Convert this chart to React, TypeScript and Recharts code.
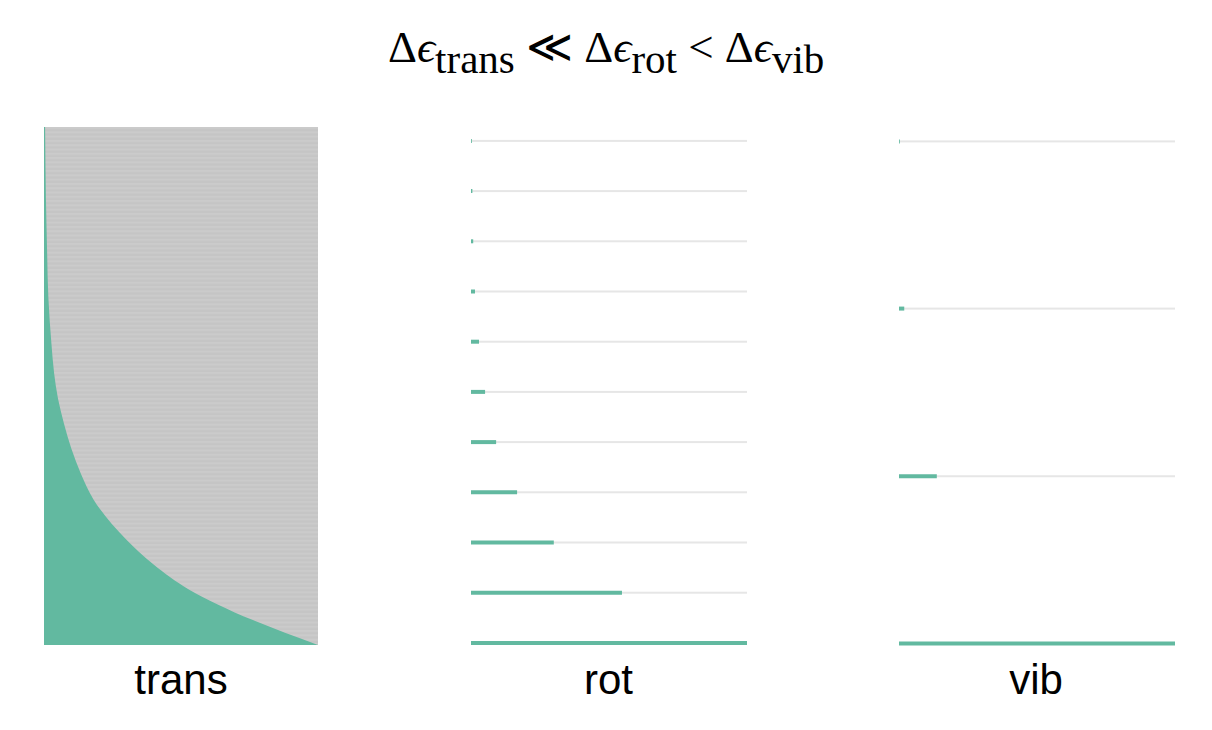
import React from 'react';
import { ComposedChart, Bar, Area, XAxis, YAxis, CartesianGrid } from 'recharts';

// Energy (in units of the rotational spacing) and relative population
const transEnergy = [0, 0.5, 1.1, 1.6, 2.1, 2.9, 3.4, 3.9, 4.4, 4.9, 5.4, 6.0, 6.9, 7.9, 8.9, 10.3];
const transPopulation = [1, 0.76, 0.53, 0.4, 0.3, 0.18, 0.135, 0.1, 0.073, 0.051, 0.037, 0.027, 0.016, 0.011, 0.007, 0.004];

const rotLevels = [0, 1, 2, 3, 4, 5, 6, 7, 8, 9, 10];
const rotPopulation = [1, 0.547, 0.3, 0.167, 0.091, 0.051, 0.029, 0.0145, 0.008, 0.005, 0.003];

const vibLevels = [0, 3.33, 6.67, 10];
const vibPopulation = [1, 0.137, 0.019, 0.003];

const panelLabels = ['trans', 'rot', 'vib'];

const GREEN = '#62b9a0';
const LINE_GRAY = '#e6e6e6';

const GrayLine = (props: any) => {
  const { x, y, width, height } = props;
  return <rect x={x} y={y + height / 2 - 1} width={width} height={2} fill={LINE_GRAY} />;
};

function LevelPanel({ levels, pops, left }: { levels: number[]; pops: number[]; left: number }) {
  const data = levels.map((e, i) => ({ e, p: pops[i] }));
  return (
    <div style={{ position: 'absolute', left, top: 137, width: 276, height: 510 }}>
      <ComposedChart
        layout="vertical"
        width={276}
        height={510}
        data={data}
        margin={{ top: 4, right: 0, bottom: 4, left: 0 }}
      >
        <XAxis type="number" domain={[0, 1]} hide />
        <YAxis type="number" dataKey="e" domain={[0, 10]} reversed hide />
        <Bar
          dataKey="p"
          fill={GREEN}
          barSize={4}
          isAnimationActive={false}
          background={GrayLine}
        />
      </ComposedChart>
    </div>
  );
}

function TransPanel() {
  const data = transEnergy.map((e, i) => ({ e, p: transPopulation[i] }));
  return (
    <div style={{ position: 'absolute', left: 44, top: 127, width: 274, height: 518 }}>
      <ComposedChart
        layout="vertical"
        width={274}
        height={518}
        data={data}
        margin={{ top: 0, right: 0, bottom: 0, left: 0 }}
      >
        <defs>
          <pattern id="transStripes" x="0" y="0" width="4" height="4.3" patternUnits="userSpaceOnUse">
            <rect x="0" y="0" width="4" height="4.3" fill="#c5c5c5" />
            <rect x="0" y="0" width="4" height="2" fill="#cbcbcb" />
          </pattern>
        </defs>
        <CartesianGrid horizontal={false} vertical={false} fill="url(#transStripes)" fillOpacity={1} />
        <XAxis type="number" domain={[0, 1]} hide />
        <YAxis type="number" dataKey="e" domain={[0, 10.3]} reversed hide />
        <Area
          dataKey="p"
          type="monotone"
          fill={GREEN}
          fillOpacity={1}
          stroke="none"
          isAnimationActive={false}
          dot={false}
          activeDot={false}
        />
      </ComposedChart>
    </div>
  );
}

const subStyle: React.CSSProperties = { fontSize: 41, position: 'relative', top: 11 };
const epsStyle: React.CSSProperties = { fontStyle: 'italic' };

export default function App() {
  const centers = [181, 608.5, 1036];
  return (
    <div style={{ position: 'absolute', left: 0, top: 0, width: 1212, height: 730, background: '#fff', overflow: 'hidden' }}>
      <div
        style={{
          position: 'absolute',
          left: 388,
          top: 25,
          fontFamily: '"Liberation Serif", "DejaVu Serif", serif',
          fontSize: 45,
          lineHeight: 1,
          whiteSpace: 'nowrap',
          color: '#000',
        }}
      >
        Δ<span style={epsStyle}>ϵ</span><span style={subStyle}>trans</span> ≪ Δ<span style={epsStyle}>ϵ</span>
        <span style={subStyle}>rot</span> &lt; Δ<span style={epsStyle}>ϵ</span><span style={subStyle}>vib</span>
      </div>

      <TransPanel />
      <LevelPanel levels={rotLevels} pops={rotPopulation} left={471} />
      <LevelPanel levels={vibLevels} pops={vibPopulation} left={899} />

      {panelLabels.map((label, i) => (
        <div
          key={label}
          style={{
            position: 'absolute',
            left: centers[i] - 150,
            top: 659,
            width: 300,
            textAlign: 'center',
            fontFamily: '"Liberation Sans", Arial, sans-serif',
            fontSize: 42,
            lineHeight: 1,
            color: '#000',
          }}
        >
          {label}
        </div>
      ))}
    </div>
  );
}
